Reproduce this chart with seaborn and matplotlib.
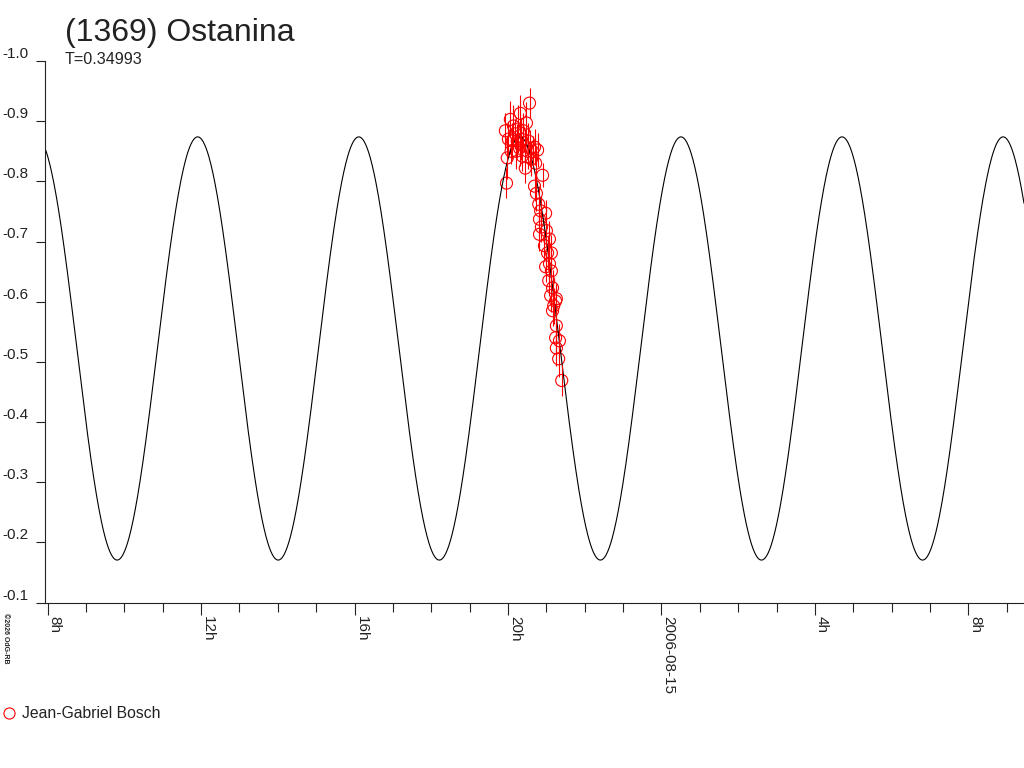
"""
Lightcurve of (1369) Ostanina, 2006-08-14/15
"""

# import section
import numpy as np
import pandas as pd
import seaborn as sns
import matplotlib.pyplot as plt
from matplotlib.ticker import FixedLocator, MultipleLocator

# observations (hours since 2006-08-14 0h, relative magnitude, error)
OBS_HOURS = [19.93, 19.96, 19.98, 20.01, 20.06, 20.08, 20.11, 20.14, 20.19, 20.21,
             20.24, 20.27, 20.30, 20.32, 20.35, 20.37, 20.40, 20.43, 20.45, 20.48,
             20.51, 20.53, 20.56, 20.58, 20.61, 20.64, 20.69, 20.72, 20.77,
             20.69, 20.74, 20.90, 20.80, 20.85, 20.98, 20.82, 20.87, 20.82, 21.00,
             21.08, 20.95, 21.03, 21.13, 20.98, 21.08, 21.13, 21.06, 21.16, 21.11,
             21.26, 21.19, 21.24, 21.16, 21.26, 21.24, 21.34, 21.26, 21.32, 21.40]
OBS_MAG = [-0.884, -0.797, -0.839, -0.870, -0.903, -0.850, -0.867, -0.892, -0.879, -0.850,
           -0.867, -0.887, -0.855, -0.913, -0.870, -0.842, -0.884, -0.859, -0.822, -0.897,
           -0.850, -0.867, -0.930, -0.855, -0.837, -0.850, -0.857, -0.830, -0.852,
           -0.792, -0.780, -0.810, -0.762, -0.751, -0.747, -0.737, -0.724, -0.712, -0.718,
           -0.704, -0.693, -0.681, -0.681, -0.658, -0.663, -0.651, -0.635, -0.623, -0.610,
           -0.605, -0.593, -0.601, -0.585, -0.560, -0.540, -0.535, -0.523, -0.505, -0.469]
OBS_ERR = [0.030, 0.025, 0.035, 0.028, 0.030, 0.022, 0.030, 0.035, 0.025, 0.030,
           0.028, 0.040, 0.030, 0.030, 0.035, 0.025, 0.030, 0.028, 0.025, 0.035,
           0.030, 0.030, 0.025, 0.030, 0.028, 0.025, 0.030, 0.025, 0.028,
           0.025, 0.030, 0.020, 0.030, 0.025, 0.022, 0.030, 0.025, 0.028, 0.025,
           0.030, 0.025, 0.028, 0.030, 0.025, 0.030, 0.028, 0.025, 0.030, 0.028,
           0.025, 0.030, 0.028, 0.025, 0.030, 0.025, 0.028, 0.030, 0.030, 0.025]
OBSERVER = 'Jean-Gabriel Bosch'

# fitted lightcurve (two maxima per rotation)
PERIOD_DAYS = 0.34993
MAG_MEAN = -0.5222
MAG_AMP = 0.3517
HOUR_OF_MAX = 11.91

# axis setup
X_MIN, X_MAX = 7.93, 33.45
MAJOR_HOURS = [8, 12, 16, 20, 24, 28, 32]
MAJOR_LABELS = ['8h', '12h', '16h', '20h', '2006-08-15', '4h', '8h']
Y_TICKS = [-1.0, -0.9, -0.8, -0.7, -0.6, -0.5, -0.4, -0.3, -0.2, -0.1]

# set plot dimensions
X_PIXELS, Y_PIXELS, DPI = 1024, 768, 100
X_INCH, Y_INCH = X_PIXELS / DPI, Y_PIXELS / DPI

sns.set_style('white')
plt.rcParams['font.family'] = ['Liberation Sans', 'DejaVu Sans']
TEXT_COLOR = '#222222'

fig = plt.figure(figsize=(X_INCH, Y_INCH), dpi=DPI)
ax = fig.add_axes([45 / 1024, 1 - 602.5 / 768, 1 - 45 / 1024, (602.5 - 61) / 768])

# model curve
hours = np.linspace(X_MIN, X_MAX, 2000)
period_h = PERIOD_DAYS * 24
curve = pd.DataFrame({
    'hour': hours,
    'mag': MAG_MEAN - MAG_AMP * np.cos(4 * np.pi * (hours - HOUR_OF_MAX) / period_h),
})
sns.lineplot(x='hour', y='mag', data=curve, color='black', linewidth=0.8, ax=ax)

# observations with error bars
obs = pd.DataFrame({'hour': OBS_HOURS, 'mag': OBS_MAG, 'err': OBS_ERR})
ax.vlines(obs.hour, obs.mag - obs.err, obs.mag + obs.err, color='red', linewidth=0.8)
sns.scatterplot(x='hour', y='mag', data=obs, marker='o', s=75,
                facecolor='none', edgecolor='red', linewidth=0.8, ax=ax)

ax.set_xlim(X_MIN, X_MAX)
ax.set_ylim(-0.1, -1.0)

# ticks
ax.xaxis.set_major_locator(FixedLocator(MAJOR_HOURS))
ax.xaxis.set_minor_locator(MultipleLocator(1))
ax.set_xticklabels(MAJOR_LABELS, rotation=270, ha='left', va='top')
ax.yaxis.set_major_locator(FixedLocator(Y_TICKS))
ax.set_yticklabels(['%.1f' % v for v in Y_TICKS], va='bottom')
ax.tick_params(axis='x', which='major', bottom=True, direction='out', length=8.6,
               width=0.8, color=TEXT_COLOR, labelsize=11, labelcolor=TEXT_COLOR, pad=1)
ax.tick_params(axis='x', which='minor', bottom=True, direction='out', length=6.3,
               width=0.8, color=TEXT_COLOR)
ax.tick_params(axis='y', which='major', left=True, direction='out', length=6.5,
               width=0.8, color=TEXT_COLOR, labelsize=11, labelcolor=TEXT_COLOR, pad=5.5)
ax.set_xlabel('')
ax.set_ylabel('')
sns.despine(ax=ax)
for side in ['left', 'bottom']:
    ax.spines[side].set_color(TEXT_COLOR)
    ax.spines[side].set_linewidth(0.8)

# titles and legend
fig.text(65 / 1024, 1 - 41 / 768, '(1369) Ostanina', fontsize=23,
         color=TEXT_COLOR, ha='left', va='baseline')
fig.text(65 / 1024, 1 - 64 / 768, 'T=%.5f' % PERIOD_DAYS, fontsize=11.6,
         color=TEXT_COLOR, ha='left', va='baseline')
fig.text(2 / 1024, 1 - 613 / 768, '©2026 OdG-RB', fontsize=5, rotation=270,
         color=TEXT_COLOR, ha='left', va='top', fontweight='bold')
fig.lines.append(plt.Line2D([9 / 1024], [1 - 713 / 768], transform=fig.transFigure,
                            marker='o', markersize=8, markerfacecolor='none',
                            markeredgecolor='red', markeredgewidth=0.8, linestyle='none'))
fig.text(22 / 1024, 1 - 713 / 768, OBSERVER, fontsize=11.3,
         color=TEXT_COLOR, ha='left', va='center')

plt.savefig('out.png', dpi=DPI)
